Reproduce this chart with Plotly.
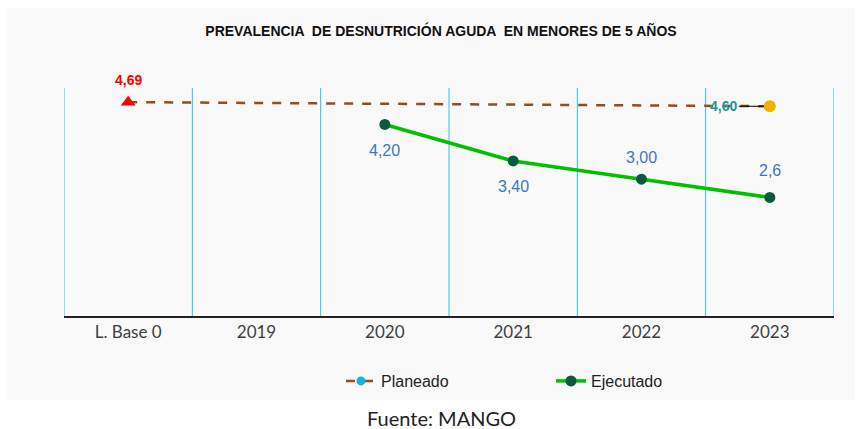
import plotly.graph_objects as go

categories = ["L. Base 0", "2019", "2020", "2021", "2022", "2023"]
cat_pos = list(range(len(categories)))
boundaries = [i - 0.5 for i in range(len(categories) + 1)]

planeado_x = [0, 5]
planeado_y = [4.69, 4.60]
planeado_labels = ["4,69", "4,60"]

ejecutado_x = [2, 3, 4, 5]
ejecutado_y = [4.20, 3.40, 3.00, 2.6]
ejecutado_labels = ["4,20", "3,40", "3,00", "2,6"]

title = "PREVALENCIA  DE DESNUTRICIÓN AGUDA  EN MENORES DE 5 AÑOS"
source = "Fuente: MANGO"

BROWN = "#9a4a1c"
GREEN = "#00c000"
DKGREEN = "#0b5a40"
CYAN = "#2cc0f0"
BLUE = "#3d77c0"

fig = go.Figure()

fig.add_shape(type="rect", xref="paper", yref="paper", layer="below",
              x0=-57/770, x1=(855-64)/770, y0=(316-400)/228, y1=(316-8)/228,
              fillcolor="#f9f9f9", line=dict(width=0))
for b in boundaries:
    fig.add_shape(type="line", xref="x", yref="paper", x0=b, x1=b, y0=0, y1=1,
                  line=dict(color=CYAN, width=1), layer="below")

fig.add_trace(go.Scatter(x=planeado_x, y=planeado_y, mode="lines",
                         line=dict(color=BROWN, width=2.5, dash="dash"),
                         showlegend=False, hoverinfo="skip"))
fig.add_trace(go.Scatter(x=planeado_x[:1], y=planeado_y[:1], mode="markers",
                         marker=dict(symbol="triangle-up", color="#ff0000", size=13),
                         showlegend=False))
fig.add_trace(go.Scatter(x=planeado_x[-1:], y=planeado_y[-1:], mode="markers",
                         marker=dict(symbol="circle", color="#f0b400", size=12),
                         showlegend=False))
fig.add_trace(go.Scatter(x=[None], y=[None], mode="lines+markers", name="Planeado",
                         line=dict(color=BROWN, width=2.5, dash="dash"),
                         marker=dict(color="#1aaee8", size=9)))
fig.add_trace(go.Scatter(x=ejecutado_x, y=ejecutado_y, mode="lines+markers", name="Ejecutado",
                         line=dict(color=GREEN, width=3.5),
                         marker=dict(color=DKGREEN, size=11)))

fig.add_annotation(x=planeado_x[0], y=planeado_y[0], text="<b>" + planeado_labels[0] + "</b>",
                   showarrow=False, yshift=22, font=dict(family="Arial", size=14, color="#ff0000"))
fig.add_annotation(x=planeado_x[-1], y=planeado_y[-1], text="<b>" + planeado_labels[-1] + "</b>",
                   showarrow=True, arrowhead=0, arrowwidth=1, arrowcolor="#000000",
                   ax=-46, ay=0, standoff=6,
                   font=dict(family="Arial", size=14, color="#1a9999"))
shifts = [-26, -26, 22, 27]
for xv, yv, lab, s in zip(ejecutado_x, ejecutado_y, ejecutado_labels, shifts):
    fig.add_annotation(x=xv, y=yv, text=lab, showarrow=False, yshift=s,
                       font=dict(family="Arial", size=16, color=BLUE))

fig.add_annotation(xref="paper", yref="paper", x=(441-64)/770, y=(316-418)/228,
                   text=source, showarrow=False, yanchor="middle",
                   font=dict(family="Lato", size=20, color="#222222"))

fig.update_layout(
    width=858, height=429,
    margin=dict(l=64, r=24, t=88, b=113),
    paper_bgcolor="#ffffff", plot_bgcolor="rgba(0,0,0,0)",
    title=dict(text="<b>" + title + "</b>", x=441 / 858, xanchor="center",
               y=1 - 31 / 429, yanchor="middle", yref="container",
               font=dict(family="Arial", size=14, color="#111111")),
    legend=dict(orientation="h", x=(341 - 64) / 770, xanchor="left",
                y=(316 - 381) / 228, yanchor="middle",
                font=dict(family="Arial", size=16, color="#222222"),
                entrywidth=165, entrywidthmode="pixels",
                bgcolor="rgba(0,0,0,0)"),
    showlegend=True,
)
fig.update_xaxes(range=[-0.5, 5.5], tickvals=cat_pos, ticktext=categories,
                 showgrid=False, zeroline=False, showline=True, linecolor="#222222",
                 linewidth=2, ticks="",
                 tickfont=dict(family="Lato", size=17, color="#404040"))
fig.update_yaxes(range=[0, 5], visible=False, showgrid=False, zeroline=False)

fig.write_html("out.html", config={"displayModeBar": False},
               post_script="document.body.style.margin='0';")
